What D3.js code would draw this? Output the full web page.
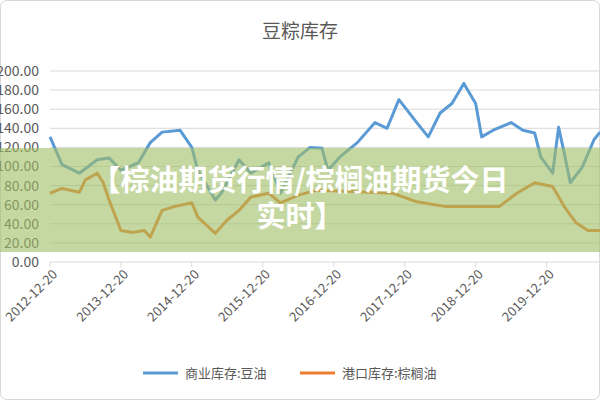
<!DOCTYPE html>
<html><head><meta charset="utf-8">
<script src="https://cdn.jsdelivr.net/npm/d3@7"></script>
<style>body{margin:0;background:#fff}svg{display:block;font-family:"Noto Sans CJK SC","Noto Sans",sans-serif}</style>
</head><body><div id="chart"></div>
<script>
// 商业库存:豆油
const soyDates = ['2012-12','2013-02','2013-05','2013-08','2013-10','2013-12','2014-03','2014-05','2014-07','2014-10','2014-12','2015-01','2015-04','2015-05','2015-08','2015-10','2016-01','2016-03','2016-06','2016-08','2016-10','2016-11','2017-01','2017-04','2017-07','2017-09','2017-11','2018-02','2018-04','2018-06','2018-08','2018-10','2018-12','2019-01','2019-03','2019-06','2019-08','2019-10','2019-11','2020-01','2020-02','2020-03','2020-04','2020-06','2020-08','2020-09']
const soyValues = [131,102,93,107,109,96,104,125,136,138,120,96,65,72,107,93,104,72,110,120,119,96,110,125,146,140,170,146,131,156,166,187,166,131,138,146,138,135,110,93,141,114,83,99,128,136]
// 港口库存:棕榈油
const palmDates = ['2012-12','2013-02','2013-05','2013-06','2013-08','2013-09','2013-10','2013-12','2014-02','2014-04','2014-05','2014-07','2014-09','2014-12','2015-01','2015-04','2015-06','2015-08','2015-10','2016-01','2016-03','2016-06','2016-09','2017-02','2017-10','2018-02','2018-07','2018-12','2019-04','2019-07','2019-10','2020-01','2020-03','2020-05','2020-07','2020-09']
const palmValues = [72,77,73,86,93,83,65,33,31,33,26,54,58,62,47,30,44,54,68,72,62,70,75,74,72,63,58,58,58,72,83,79,58,41,33,33]
const yTicks = [0,20,40,60,80,100,120,140,160,180,200]
const seriesNames = ['商业库存:豆油','港口库存:棕榈油']
const colors = ['#5b9bd5','#ed7d31']

const W = 600, H = 400
const parse = s => d3.timeParse('%Y-%m-%d')(s + '-20')
const svg = d3.select('#chart').append('svg').attr('width', W).attr('height', H)

svg.append('rect').attr('x',0.5).attr('y',0.5).attr('width',W-1).attr('height',H-1)
  .attr('rx',6).attr('fill','#fff').attr('stroke','#d9d9d9')

svg.append('text').attr('x',300).attr('y',38).attr('text-anchor','middle')
  .attr('font-size',19).attr('fill','#595959').text('豆粽库存')

const x = d3.scaleTime().domain([parse('2012-12'), parse('2020-09')]).range([50, 600])
const y = d3.scaleLinear().domain([0, 200]).range([262, 71])

// grid + y labels
svg.selectAll('line.grid').data(yTicks).join('line').attr('class','grid')
  .attr('x1',50).attr('x2',600).attr('y1',d=>y(d)).attr('y2',d=>y(d))
  .attr('stroke','#d9d9d9')
svg.selectAll('text.ylab').data(yTicks).join('text').attr('class','ylab')
  .attr('x',39).attr('y',d=>y(d)).attr('dy','0.35em').attr('text-anchor','end')
  .attr('font-size',14).attr('fill','#595959').text(d=>d3.format('.2f')(d))

// x axis
const xTicks = d3.range(2012, 2020).map(yr => parse(yr + '-12'))
svg.selectAll('line.xt').data(xTicks).join('line').attr('class','xt')
  .attr('x1',d=>x(d)).attr('x2',d=>x(d)).attr('y1',262).attr('y2',267).attr('stroke','#d9d9d9')
svg.selectAll('text.xlab').data(xTicks).join('text').attr('class','xlab')
  .attr('transform',d=>`translate(${x(d)+5},${272}) rotate(-45)`)
  .attr('text-anchor','end').attr('dy','0.35em')
  .attr('font-size',13).attr('fill','#595959').text(d3.timeFormat('%Y-%m-%d'))

const line = d3.line().x(d=>x(d[0])).y(d=>y(d[1]))
const series = [
  soyDates.map((d,i)=>[parse(d), soyValues[i]]),
  palmDates.map((d,i)=>[parse(d), palmValues[i]])
]
series.forEach((s,i) => {
  svg.append('path').datum(s).attr('d',line).attr('fill','none')
    .attr('stroke',colors[i]).attr('stroke-width',3).attr('stroke-linejoin','round')
})

// legend
const legendX = [143, 300]
seriesNames.forEach((n,i) => {
  svg.append('line').attr('x1',legendX[i]).attr('x2',legendX[i]+35).attr('y1',373).attr('y2',373)
    .attr('stroke',colors[i]).attr('stroke-width',3)
  svg.append('text').attr('x',legendX[i]+42).attr('y',373).attr('dy','0.35em')
    .attr('font-size',13).attr('fill','#595959').text(n)
})

// overlay banner
svg.append('rect').attr('x',0).attr('y',148).attr('width',W).attr('height',104)
  .attr('fill','rgb(160,190,100)').attr('opacity',0.6)
const banner = ['【棕油期货行情/棕榈油期货今日','实时】']
svg.selectAll('text.banner').data(banner).join('text').attr('class','banner')
  .attr('x',300).attr('y',(d,i)=>181+i*36).attr('dy','0.35em').attr('text-anchor','middle')
  .attr('font-size',29).attr('font-weight','bold').attr('fill','#fff').text(d=>d)
</script></body></html>
